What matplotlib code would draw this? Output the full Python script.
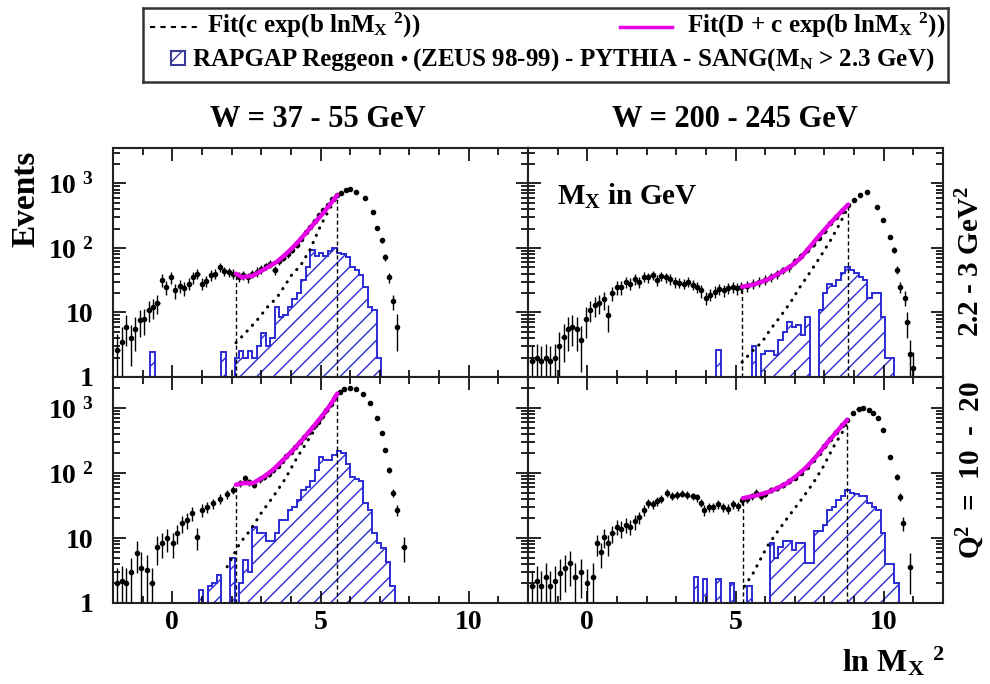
#!/usr/bin/env python3
"""
Diffractive ln(M_X^2) distributions in two W bins and two Q^2 bins,
with the exponential and constant+exponential fits and the RAPGAP
Reggeon expectation drawn as a hatched histogram.

Saves the figure as out.png.
"""

import numpy as np
import matplotlib
matplotlib.use("Agg")
import matplotlib.pyplot as plt
from matplotlib.ticker import (MultipleLocator, FixedLocator, FixedFormatter,
                               LogLocator, NullFormatter)
from matplotlib.patches import Rectangle

RG_BLUE = '#2b2bd4'
MAGENTA = '#e600e6'
RG_WIDTH = 0.15          # RAPGAP histogram bin width in ln M_X^2

plt.rcParams['font.family'] = 'Liberation Serif'
plt.rcParams['font.weight'] = 'bold'
plt.rcParams['mathtext.fontset'] = 'custom'
plt.rcParams['mathtext.rm'] = 'Liberation Serif:bold'
plt.rcParams['mathtext.it'] = 'Liberation Serif:bold'
plt.rcParams['mathtext.bf'] = 'Liberation Serif:bold'
plt.rcParams['hatch.color'] = RG_BLUE
plt.rcParams['hatch.linewidth'] = 1.0

# ---------------------------------------------------------------------------
# W = 37 - 55 GeV, Q^2 = 2.2 - 3 GeV^2
tl_x = [-1.85, -1.70, -1.55, -1.40, -1.25, -1.10, -0.95, -0.80, -0.65, -0.50, -0.35, -0.20, -0.05,
        0.10, 0.25, 0.40, 0.55, 0.70, 0.85, 1.00, 1.15, 1.30, 1.45, 1.60, 1.75, 1.90, 2.05,
        2.25, 2.40, 2.55, 2.70, 2.85, 3.00, 3.15, 3.30, 3.45, 3.60, 3.75, 3.90, 4.05, 4.20,
        4.35, 4.50, 4.65, 4.80, 4.95, 5.10, 5.25, 5.40, 5.55, 5.70, 5.85, 6.00,
        6.20, 6.50, 6.77, 6.90, 7.07, 7.18, 7.30, 7.45, 7.58]
tl_y = [2.6, 3.5, 6, 4, 5.5, 7.6, 8, 11, 12, 14, 32, 25, 35,
        22, 26, 24, 28, 35, 40, 28, 31, 38, 40, 50, 44, 42, 40,
        36, 38, 35, 40, 43, 47, 52, 57, 45, 62, 70, 80, 93, 110,
        140, 175, 215, 260, 330, 390, 470, 580, 660, 720, 800, 810,
        740, 590, 360, 205, 133, 72, 35, 15, 6]
tl_err = [2.0, 2.5, 3, 2.5, 3, 3.5, 3.5, 4, 4, 4.5, 7, 6, 7,
          6, 6, 6, 6, 7, 7, 6, 6, 7, 7, 8, 7, 7, 7,
          6, 6, 6, 6, 7, 7, 7, 8, 7, 8, 8, 9, 10, 10,
          12, 13, 15, 16, 18, 20, 22, 24, 26, 27, 28, 28,
          27, 24, 19, 14, 12, 9, 6, 4, 3.5]
tl_fit_x = [2.15, 2.35, 2.70, 3.00, 3.30, 3.55, 3.80, 4.05, 4.30, 4.55, 4.80, 5.05, 5.30, 5.57]
tl_fit_y = [40, 35, 37, 44, 53, 62, 78, 100, 133, 180, 245, 330, 460, 660]
tl_exp_x = [2.15, 2.50, 2.86, 3.20, 3.53, 3.77, 4.07, 4.30, 4.64, 5.00, 5.30, 5.57]
tl_exp_y = [3.4, 5, 7.6, 12, 17, 25, 41, 51, 93, 220, 400, 620]
tl_rg_start = -0.75
tl_rg = [2.4, 0, 0, 0, 0, 0, 0, 0, 0, 0, 0, 0, 0, 0, 0, 0, 2.4, 0, 0,
         2, 2.5, 2, 2.5, 2, 3, 4.8, 3, 4, 12, 8.5, 9, 12, 16, 20, 32, 51, 93,
         75, 85, 75, 90, 100, 85, 80, 72, 51, 45, 38, 25, 12, 11, 2]

# W = 200 - 245 GeV, Q^2 = 2.2 - 3 GeV^2
tr_x = [-1.85, -1.70, -1.55, -1.40, -1.25, -1.10, -0.95, -0.80, -0.65, -0.50, -0.35, -0.20, -0.05,
        0.10, 0.25, 0.40, 0.55, 0.70, 0.85, 1.00, 1.15, 1.30, 1.45, 1.60, 1.75, 1.90, 2.05,
        2.20, 2.35, 2.50, 2.65, 2.80, 2.95, 3.10, 3.25, 3.40, 3.55, 3.70, 3.85, 4.00, 4.15,
        4.30, 4.45, 4.60, 4.75, 4.90, 5.05, 5.20,
        5.40, 5.60, 5.80, 6.00, 6.20, 6.40, 6.60, 6.80, 7.00, 7.20, 7.40, 7.60, 7.80, 8.00,
        8.20, 8.40, 8.60, 8.80, 9.00, 9.20, 9.44,
        9.77, 9.98, 10.20, 10.35, 10.44, 10.55, 10.72, 10.80, 10.90, 11.00]
tr_y = [1.8, 2.0, 1.8, 2.0, 1.8, 2.0, 3.0, 4.2, 5.5, 6, 5.5, 3.7, 8,
        11, 13, 14, 16, 9, 20, 25, 25, 30, 28, 33, 30, 36, 35,
        38, 32, 37, 35, 33, 30, 29, 28, 30, 27, 25, 22, 17, 19,
        21, 23, 22, 24, 25, 24, 25,
        26, 28, 30, 32, 35, 39, 45, 50, 62, 75, 92, 115, 145, 185,
        240, 300, 380, 470, 560, 660, 740,
        435, 270, 148, 93, 46, 25, 17, 7, 2.3, 1.4]
tr_err = [1.2, 1.3, 1.2, 1.3, 1.2, 1.3, 2, 2.5, 3, 3, 3, 2.5, 4,
          4, 4.5, 4.5, 5, 4, 5, 6, 6, 6, 6, 6, 6, 6, 6,
          6, 6, 6, 6, 6, 6, 5, 5, 5, 5, 5, 5, 4, 4,
          4.5, 4.5, 4.5, 4.5, 5, 5, 5,
          5, 5, 5, 5.5, 5.5, 6, 6, 7, 7, 8, 9, 10, 11, 13,
          15, 17, 19, 21, 23, 25, 26,
          20, 16, 12, 10, 7, 5, 4.5, 3, 1.5, 1]
tr_fit_x = [5.22, 5.60, 6.06, 6.45, 6.84, 7.20, 7.51, 7.85, 8.19, 8.50, 8.80]
tr_fit_y = [25, 27, 32, 40, 51, 70, 104, 160, 240, 340, 470]
tr_exp_x = [5.22, 5.60, 5.90, 6.17, 6.50, 6.84, 7.18, 7.50, 7.85, 8.20, 8.50, 8.80]
tr_exp_y = [1.7, 2.6, 3.5, 5.4, 8.5, 14, 25, 41, 72, 130, 230, 430]
tr_rg_start = 4.35
tr_rg = [2.6, 0, 0, 0, 0, 0, 0, 0, 3, 0, 2.3, 2.5, 2.5, 2.2, 3.7, 5, 7, 6, 6.5, 4.5, 8.5,
         0, 0, 11, 20, 28, 26, 32, 41, 51, 45, 41, 35, 32, 17, 20, 20, 8.5, 2, 2]

# W = 37 - 55 GeV, Q^2 = 10 - 20 GeV^2
bl_x = [-1.85, -1.70, -1.55, -1.40, -1.20, -1.05, -0.86, -0.70, -0.52, -0.35, -0.18, 0.02,
        0.17, 0.33, 0.50, 0.67, 0.83, 1.00, 1.17, 1.37, 1.60, 1.85, 2.05,
        2.30, 2.45, 2.60, 2.77, 2.95, 3.10, 3.25, 3.40, 3.55, 3.70, 3.85, 4.00, 4.15,
        4.30, 4.45, 4.60, 4.75, 4.90, 5.05, 5.20, 5.35, 5.50, 5.65, 5.80, 6.00,
        6.20, 6.43, 6.67, 6.90, 7.07, 7.18, 7.30, 7.45, 7.58, 7.80]
bl_y = [2.0, 2.2, 2.0, 3.0, 5.9, 3.5, 3.2, 2.0, 7.3, 8.5, 10, 8.5,
        12, 17, 19, 24, 10.5, 27, 30, 34, 40, 47, 55,
        70, 83, 72, 66, 80, 88, 98, 112, 130, 155, 180, 210, 250,
        300, 360, 430, 510, 620, 760, 920, 1150, 1500, 1750, 1950, 2000,
        1950, 1670, 1180, 700, 415, 225, 112, 50, 27, 7.3]
bl_err = [1.5, 1.5, 1.5, 2, 3, 2.5, 2.2, 1.5, 3.5, 3.5, 4, 3.5,
          4, 5, 5, 5.5, 4, 6, 6, 6, 7, 7, 8,
          9, 9, 9, 8, 9, 10, 10, 11, 12, 13, 14, 15, 16,
          18, 19, 21, 23, 25, 28, 30, 34, 39, 42, 44, 45,
          44, 41, 34, 26, 20, 15, 11, 7, 5, 3]
bl_fit_x = [2.15, 2.40, 2.73, 3.05, 3.40, 3.75, 4.07, 4.40, 4.75, 5.10, 5.35, 5.57]
bl_fit_y = [66, 70, 70, 85, 112, 160, 225, 330, 510, 800, 1150, 1670]
bl_exp_x = [1.85, 2.28, 2.62, 3.02, 3.40, 3.80, 4.20, 4.60, 5.00, 5.30, 5.57]
bl_exp_y = [3.6, 8.3, 13, 25, 43, 80, 170, 330, 650, 1000, 1500]
bl_rg_start = 0.90
bl_rg = [1.6, 0, 1.8, 2, 2.7, 0, 0, 5, 0, 2, 4.6, 3, 15, 12, 12, 9, 9, 12, 19, 19,
         27, 30, 38, 55, 60, 75, 112, 178, 160, 160, 190, 220, 200, 140, 87, 80, 75,
         35, 27, 12, 8.3, 7, 4.2, 1.8]

# W = 200 - 245 GeV, Q^2 = 10 - 20 GeV^2
br_x = [-1.85, -1.70, -1.55, -1.40, -1.25, -1.10, -0.92, -0.75, -0.58, -0.40, -0.20, 0.00, 0.20,
        0.33, 0.45, 0.55, 0.70, 0.85, 1.00, 1.15, 1.30, 1.45, 1.60, 1.75, 1.90, 2.05,
        2.20, 2.35, 2.50, 2.69, 2.85, 3.03, 3.20, 3.37, 3.55, 3.70, 3.85, 3.95,
        4.10, 4.24, 4.40, 4.58, 4.75, 4.92, 5.07, 5.22,
        5.40, 5.55, 5.70, 5.85, 6.00, 6.20, 6.40, 6.60, 6.80, 7.00, 7.20, 7.40, 7.60, 7.80,
        8.00, 8.20, 8.40, 8.60, 8.77, 8.95, 9.15, 9.30, 9.50, 9.64, 9.80, 9.98,
        10.20, 10.44, 10.55, 10.65, 10.90]
br_y = [1.8, 2.2, 1.8, 2.5, 1.8, 2.2, 2.9, 3.5, 4.1, 2.5, 3.0, 2.0, 2.5,
        8.3, 6, 10.5, 8.3, 12, 15, 14, 16, 15, 18, 21, 27, 34,
        33, 37, 40, 50, 45, 46, 48, 46, 44, 42, 35, 27,
        30, 30, 33, 30, 28, 33, 31, 38,
        40, 44, 50, 45, 48, 55, 58, 65, 75, 85, 100, 125, 160, 200,
        260, 330, 420, 540, 660, 850, 960, 1000, 930, 850, 700, 460,
        178, 87, 43, 17, 3.6]
br_err = [1.3, 1.5, 1.3, 1.6, 1.3, 1.5, 1.8, 2, 2.3, 1.6, 1.8, 1.3, 1.6,
          3, 2.5, 3.5, 3, 3.5, 4, 4, 4, 4, 4.5, 4.5, 5, 5.5,
          5.5, 6, 6, 6.5, 6, 6, 6, 6, 6, 6, 5, 5,
          5, 5, 5, 5, 5, 5, 5, 5.5,
          5.5, 5.5, 6, 6, 6, 6, 6, 7, 7, 8, 8, 9, 10, 12,
          13, 15, 17, 19, 21, 24, 25, 26, 25, 24, 22, 18,
          12, 8, 6, 4, 2.2]
br_fit_x = [5.25, 5.60, 6.06, 6.40, 6.74, 7.08, 7.41, 7.75, 8.09, 8.43, 8.77]
br_fit_y = [41, 44, 50, 58, 70, 92, 125, 185, 290, 440, 660]
br_exp_x = [5.30, 5.60, 6.06, 6.44, 6.84, 7.24, 7.62, 7.96, 8.30, 8.60, 8.77]
br_exp_y = [1.8, 2.9, 7.3, 13, 23, 40, 70, 125, 250, 420, 600]
br_rg_start = 3.60
br_rg = [2.5, 0, 2.3, 0, 0, 2.3, 0, 0, 2, 0, 0, 0, 1.8, 0, 0, 0, 0,
         8.3, 5, 7.3, 9, 9, 6.5, 8.3, 8.3, 4.1, 4.1, 13, 13, 16, 27, 30, 38, 45, 55,
         50, 48, 44, 44, 35, 30, 27, 12, 4, 4, 2]

w_titles = ['W = 37 - 55 GeV', 'W = 200 - 245 GeV']
q2_labels = ['2.2 - 3 GeV$^{2}$', 'Q$^{2}$  =  10  -  20']
y_tick_values = [1, 10, 100, 1000]
y_tick_labels = ['1', '10', '10 $^{2}$', '10 $^{3}$']
row_ymax = [3550, 3000]


def draw_panel(ax, x, y, err, fit_x, fit_y, exp_x, exp_y, rg_start, rg):
    # RAPGAP Reggeon histogram, empty bins sit on the axis floor
    vals = np.asarray(rg, dtype=float)
    edges = rg_start + RG_WIDTH * np.arange(len(vals) + 1)
    ax.stairs(np.where(vals > 0, vals, 1.0), edges, baseline=1.0, fill=True,
              facecolor='none', edgecolor=RG_BLUE, hatch='//', lw=1.4, zorder=1)

    ax.errorbar(x, y, yerr=err, xerr=0.07, fmt='o', ms=3, color='black',
                ecolor='black', elinewidth=1.0, capsize=0, zorder=3)

    # pure exponential fit and constant + exponential fit
    ax.plot(exp_x, exp_y, color='black', lw=2.2, ls=(0, (0.1, 2.5)),
            dash_capstyle='round', zorder=4)
    ax.plot(fit_x, fit_y, color=MAGENTA, lw=3.2, solid_capstyle='round', zorder=5)

    # fit range boundaries
    ax.vlines([fit_x[0], fit_x[-1]], 1, [fit_y[0], fit_y[-1]], colors='black',
              linestyles=(0, (3, 2)), lw=1.0, zorder=4)


def style_axes(ax, row, col):
    ax.set_yscale('log')
    ax.set_xlim(-2, 12)
    ax.set_ylim(1, row_ymax[row])
    ax.xaxis.set_major_locator(MultipleLocator(5))
    ax.xaxis.set_minor_locator(MultipleLocator(1))
    ax.yaxis.set_major_locator(FixedLocator(y_tick_values))
    ax.yaxis.set_major_formatter(FixedFormatter(y_tick_labels))
    ax.yaxis.set_minor_locator(LogLocator(base=10, subs=np.arange(2, 10)))
    ax.yaxis.set_minor_formatter(NullFormatter())
    ax.tick_params(which='both', direction='in', top=True, right=True, width=1.2)
    ax.tick_params(which='major', length=9)
    ax.tick_params(which='minor', length=5)
    ax.tick_params(axis='x', labelsize=20, pad=5)
    ax.tick_params(axis='y', labelsize=20, pad=14)
    if row == 0:
        ax.tick_params(labelbottom=False)
    if col == 1:
        ax.tick_params(labelleft=False)
    for spine in ax.spines.values():
        spine.set_linewidth(1.5)
        spine.set_color('#222222')


def main():
    fig = plt.figure(figsize=(9.9, 6.84), dpi=100)

    col_left = [113 / 990, 528 / 990]
    col_width = 415 / 990
    row_bottom = [1 - 377 / 684, 1 - 603 / 684]
    row_height = [229 / 684, 226 / 684]

    panels = [
        (0, 0, tl_x, tl_y, tl_err, tl_fit_x, tl_fit_y, tl_exp_x, tl_exp_y, tl_rg_start, tl_rg),
        (0, 1, tr_x, tr_y, tr_err, tr_fit_x, tr_fit_y, tr_exp_x, tr_exp_y, tr_rg_start, tr_rg),
        (1, 0, bl_x, bl_y, bl_err, bl_fit_x, bl_fit_y, bl_exp_x, bl_exp_y, bl_rg_start, bl_rg),
        (1, 1, br_x, br_y, br_err, br_fit_x, br_fit_y, br_exp_x, br_exp_y, br_rg_start, br_rg),
    ]
    axes = {}
    for row, col, *series in panels:
        ax = fig.add_axes([col_left[col], row_bottom[row], col_width, row_height[row]])
        style_axes(ax, row, col)
        draw_panel(ax, *series)
        axes[(row, col)] = ax

    axes[(0, 1)].text(0.07, 0.75, 'M$_{X}$ in GeV', transform=axes[(0, 1)].transAxes,
                      ha='left', va='baseline', fontsize=21)

    # column titles, row labels, axis titles
    fig.text(318 / 990, 1 - 127 / 684, w_titles[0], ha='center', va='baseline', fontsize=22)
    fig.text(735 / 990, 1 - 127 / 684, w_titles[1], ha='center', va='baseline', fontsize=22)
    fig.text(971 / 990, 1 - 262 / 684, q2_labels[0], rotation=90,
             ha='center', va='center', fontsize=21)
    fig.text(971 / 990, 1 - 470 / 684, q2_labels[1], rotation=90,
             ha='center', va='center', fontsize=21)
    fig.text(26 / 990, 1 - 199 / 684, 'Events', rotation=90,
             ha='center', va='center', fontsize=24)
    fig.text(945 / 990, 1 - 672 / 684, 'ln M$_{X}$ $^{2}$', ha='right', va='baseline', fontsize=23)

    # legend box, laid out in pixel units
    lax = fig.add_axes([143 / 990, 1 - 82 / 684, 805 / 990, 74 / 684])
    lax.set_xlim(143, 948)
    lax.set_ylim(82, 8)
    lax.set_xticks([])
    lax.set_yticks([])
    for spine in lax.spines.values():
        spine.set_linewidth(1.8)
        spine.set_color('#333333')

    lax.plot([150, 200], [27, 27], color='black', lw=1.5, ls=(0, (2.5, 2.5)))
    lax.text(207, 33, 'Fit(c exp(b lnM$_{X}$ $^{2}$))', ha='left', va='baseline', fontsize=18)
    lax.plot([620, 672], [27, 27], color=MAGENTA, lw=2.5)
    lax.text(945, 33, 'Fit(D + c exp(b lnM$_{X}$ $^{2}$))', ha='right', va='baseline', fontsize=18)

    lax.add_patch(Rectangle((171, 51), 14, 14, facecolor='none', edgecolor='#3a3a9a',
                            hatch='//', lw=1.5))
    lax.text(193, 66, 'RAPGAP Reggeon', ha='left', va='baseline', fontsize=18)
    lax.plot([404], [58], 'o', color='black', ms=3)
    lax.text(412, 66, '(ZEUS 98-99) - PYTHIA - SANG(M$_{N}$ > 2.3 GeV)',
             ha='left', va='baseline', fontsize=18)

    fig.savefig('out.png', dpi=100)
    plt.close(fig)


if __name__ == '__main__':
    main()
